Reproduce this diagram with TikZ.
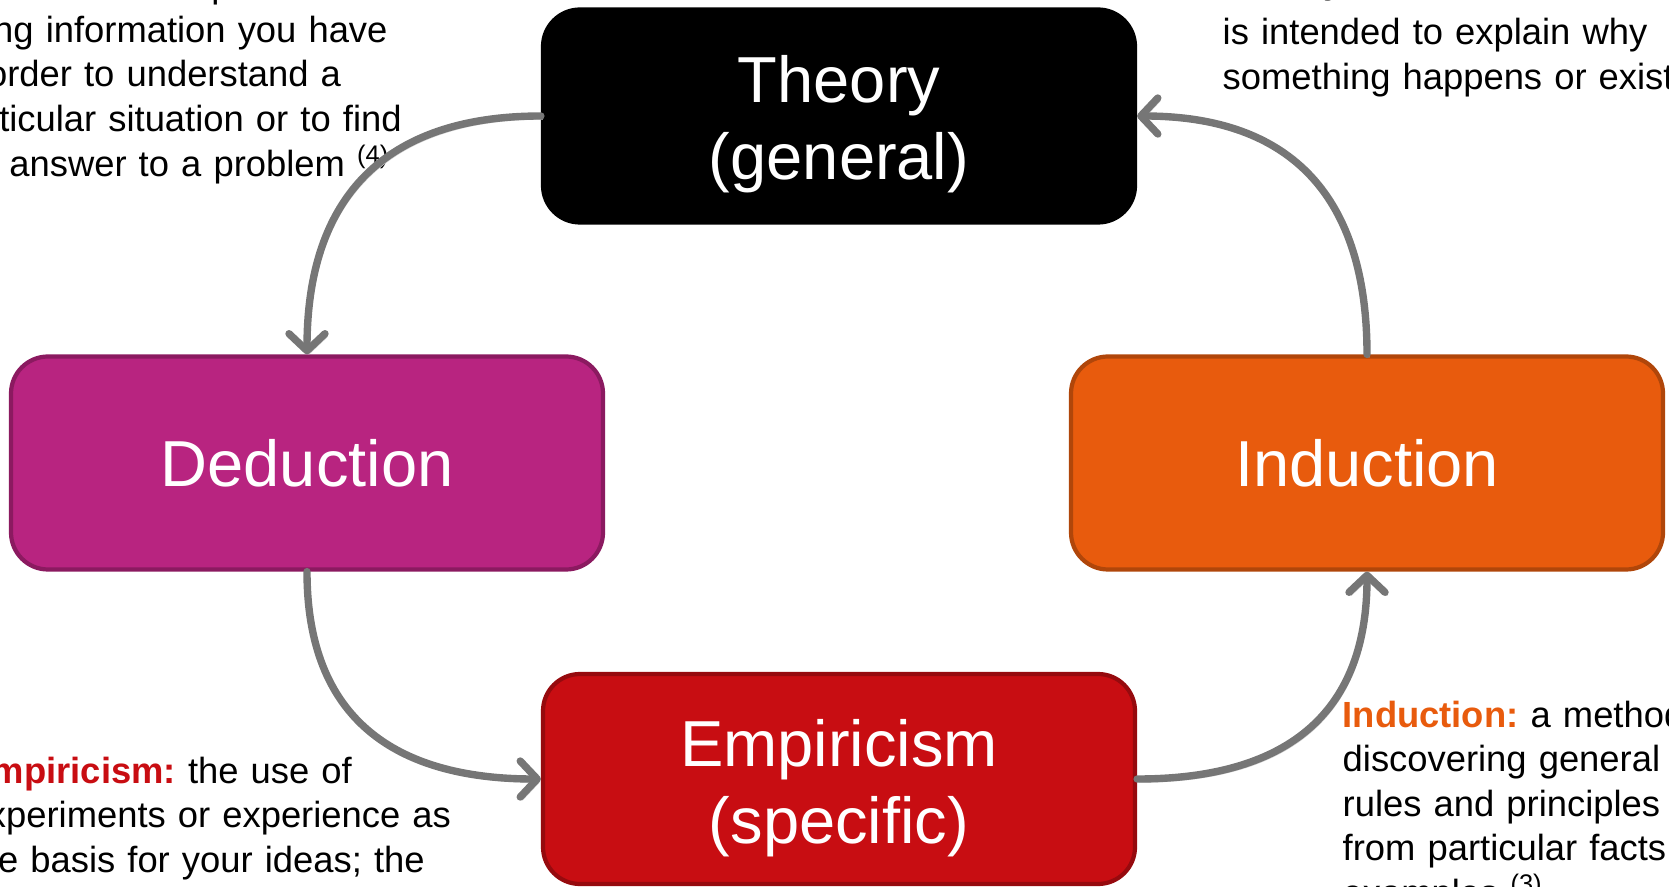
\documentclass[tikz,border=0pt]{standalone}
\usepackage{fontspec}
\setmainfont{Liberation Sans}
\usetikzlibrary{arrows.meta}

\definecolor{dedfill}{RGB}{184,36,128}
\definecolor{dedline}{RGB}{139,26,96}
\definecolor{indfill}{RGB}{232,91,13}
\definecolor{indline}{RGB}{176,70,10}
\definecolor{empfill}{RGB}{200,13,18}
\definecolor{empline}{RGB}{150,10,14}
\definecolor{arrowgray}{RGB}{118,118,118}

\frenchspacing

\begin{document}
\begin{tikzpicture}
        % Define styles
        \tikzset{
            stage/.style={rectangle, rounded corners=0.37cm, minimum width=5.92cm, minimum height=2.13cm, inner sep=0pt, line width=1.2pt, text=white, align=center, font=\fontsize{18.5}{21.9}\selectfont},
            note/.style={anchor=base west, inner sep=0pt, text width=7cm, align=left, font=\fontsize{10.35}{12.7}\selectfont},
            arrow/.style={-{Straight Barb[length=0.17cm, width=0.36cm, line cap=round, line join=round]}, line width=2.1pt, draw=arrowgray, line cap=round,
                preaction={draw=black!18, transform canvas={shift={(0.02,-0.03)}}}}
        }

        \useasboundingbox (0,0) rectangle (16.69,-8.87);
        \clip (0,0) rectangle (16.69,-8.87);

        % Nodes
        \node[stage, fill=black, draw=black] (theory) at (8.39,-1.16) {\rule{0pt}{0.63cm}Theory\\(general)};
        \node[stage, fill=dedfill, draw=dedline] (deduction) at (3.07,-4.63) {Deduction};
        \node[stage, fill=indfill, draw=indline] (induction) at (13.67,-4.63) {Induction};
        \node[stage, fill=empfill, draw=empline, minimum height=2.10cm] (empiricism) at (8.39,-7.79) {\rule{0pt}{0.65cm}Empiricism\\(specific)};

        % Definitions
        \node[note] (deduction_note) at (-0.54,0.025) {\textbf{\textcolor{dedfill}{Deduction:}} the process of\\ using information you have\\ in order to understand a\\ particular situation or to find\\ the answer to a problem \textsuperscript{(4)}};
        \node[note] (theory_note) at (12.22,0.06) {\textbf{Theory:} a set of ideas that\\[0.06cm] is intended to explain why\\ something happens or exists};
        \node[note] (empiricism_note) at (-0.33,-7.83) {\textbf{\textcolor{empfill}{Empiricism:}} the use of\\ experiments or experience as\\ the basis for your ideas; the};
        \node[note] (induction_note) at (13.42,-7.27) {\textbf{\textcolor{indfill}{Induction:}} a method of\\ discovering general\\ rules and principles\\ from particular facts and\\ examples \textsuperscript{(3)}};

        % Arrows
        \draw[arrow] (theory.west) to[out=180, in=90, looseness=1.2] (deduction.north);
        \draw[arrow] (deduction.south) to[out=-90, in=180, looseness=1.2] (empiricism.west);
        \draw[arrow] (empiricism.east) to[out=0, in=-90, looseness=1.2] (induction.south);
        \draw[arrow] (induction.north) to[out=90, in=0, looseness=1.2] (theory.east);
\end{tikzpicture}
\end{document}
